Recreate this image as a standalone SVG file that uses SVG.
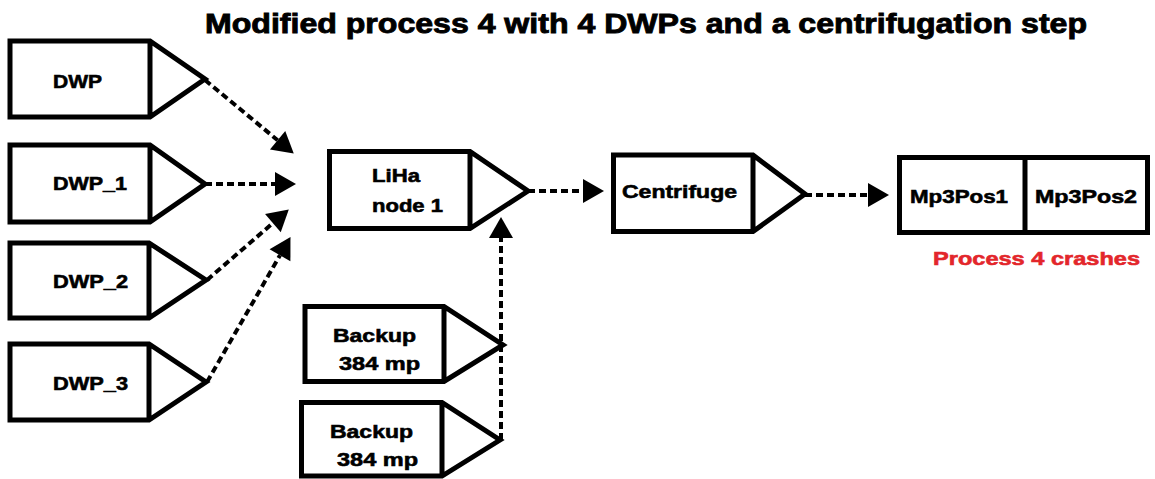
<svg xmlns="http://www.w3.org/2000/svg" width="1155" height="479" viewBox="0 0 1155 479">
  <style>
    .node { fill: #ffffff; stroke: #000000; stroke-width: 5; stroke-linejoin: miter; }
    .lbl { font-family: "Liberation Sans", Arial, sans-serif; font-weight: bold; font-size: 19px; fill: #000000; stroke: #000000; stroke-width: 0.6; }
    .title { font-family: "Liberation Sans", Arial, sans-serif; font-weight: bold; font-size: 28px; fill: #000000; stroke: #000000; stroke-width: 0.9; }
    .warn { font-family: "Liberation Sans", Arial, sans-serif; font-weight: bold; font-size: 19px; fill: #e3262b; stroke: #e3262b; stroke-width: 0.6; }
    .conn { fill: none; stroke: #000000; stroke-width: 4; stroke-dasharray: 7 4; marker-end: url(#head); }
  </style>
  <defs>
    <marker id="head" markerUnits="userSpaceOnUse" markerWidth="22" markerHeight="24" refX="0" refY="12" orient="auto" overflow="visible">
      <path d="M0,0 L21,12 L0,24 Z" fill="#000000"/>
    </marker>
  </defs>

  <rect width="1155" height="479" fill="#ffffff"/>

  <text class="title" x="205" y="33" textLength="882" lengthAdjust="spacingAndGlyphs">Modified process 4 with 4 DWPs and a centrifugation step</text>

  <!-- source plates -->
  <g id="dwp">
    <path class="node" d="M10,41 H150 L205,79 L150,117 H10 Z M150,41 V117"/>
    <text class="lbl" x="53" y="88" textLength="49" lengthAdjust="spacingAndGlyphs">DWP</text>
  </g>
  <g id="dwp_1">
    <path class="node" d="M10,145 H150 L205,184 L150,222 H10 Z M150,145 V222"/>
    <text class="lbl" x="53" y="190" textLength="74" lengthAdjust="spacingAndGlyphs">DWP_1</text>
  </g>
  <g id="dwp_2">
    <path class="node" d="M10,243 H149 L206,280 L149,318 H10 Z M149,243 V318"/>
    <text class="lbl" x="53" y="288" textLength="75" lengthAdjust="spacingAndGlyphs">DWP_2</text>
  </g>
  <g id="dwp_3">
    <path class="node" d="M10,344 H149 L206,382 L149,420 H10 Z M149,344 V420"/>
    <text class="lbl" x="53" y="390" textLength="75" lengthAdjust="spacingAndGlyphs">DWP_3</text>
  </g>

  <!-- pipetting node -->
  <g id="liha">
    <path class="node" d="M329.5,151.5 H470 L528,191 L470,228.5 H329.5 Z M470,151.5 V228.5"/>
    <text class="lbl" x="372" y="182" textLength="48" lengthAdjust="spacingAndGlyphs">LiHa</text>
    <text class="lbl" x="372" y="212" textLength="71" lengthAdjust="spacingAndGlyphs">node 1</text>
  </g>

  <!-- backup plates -->
  <g id="backup_1">
    <path class="node" d="M305,306.5 H444 L503,345 L444,381.5 H305 Z M444,306.5 V381.5"/>
    <text class="lbl" x="333" y="342" textLength="83" lengthAdjust="spacingAndGlyphs">Backup</text>
    <text class="lbl" x="339" y="370" textLength="81" lengthAdjust="spacingAndGlyphs">384 mp</text>
  </g>
  <g id="backup_2">
    <path class="node" d="M301.5,402.5 H442 L500,440 L442,476 H301.5 Z M442,402.5 V476"/>
    <text class="lbl" x="330" y="438" textLength="83" lengthAdjust="spacingAndGlyphs">Backup</text>
    <text class="lbl" x="337" y="466" textLength="81" lengthAdjust="spacingAndGlyphs">384 mp</text>
  </g>

  <!-- centrifugation step -->
  <g id="centrifuge">
    <path class="node" d="M613.5,155 H753 L805,194 L753,231.5 H613.5 Z M753,155 V231.5"/>
    <text class="lbl" x="622" y="198" textLength="115" lengthAdjust="spacingAndGlyphs">Centrifuge</text>
  </g>

  <!-- destination positions -->
  <g id="mp3pos">
    <rect class="node" x="899.5" y="157.5" width="248" height="75"/>
    <line x1="1025" y1="157.5" x2="1025" y2="232.5" stroke="#000000" stroke-width="5"/>
    <text class="lbl" x="910" y="203" textLength="98" lengthAdjust="spacingAndGlyphs">Mp3Pos1</text>
    <text class="lbl" x="1035" y="203" textLength="102" lengthAdjust="spacingAndGlyphs">Mp3Pos2</text>
    <text class="warn" x="933" y="265" textLength="207" lengthAdjust="spacingAndGlyphs">Process 4 crashes</text>
  </g>

  <!-- connectors -->
  <g id="connectors">
    <line class="conn" x1="205" y1="80" x2="277.6" y2="140.2"/>
    <line class="conn" x1="205" y1="184" x2="275" y2="184"/>
    <line class="conn" x1="207" y1="280" x2="272.9" y2="223.1"/>
    <line class="conn" x1="207" y1="382" x2="280" y2="255.3"/>
    <line class="conn" x1="528" y1="191" x2="583" y2="191"/>
    <line class="conn" x1="805" y1="195" x2="868" y2="195"/>
    <line class="conn" x1="501" y1="440" x2="501" y2="238"/>
  </g>
</svg>
